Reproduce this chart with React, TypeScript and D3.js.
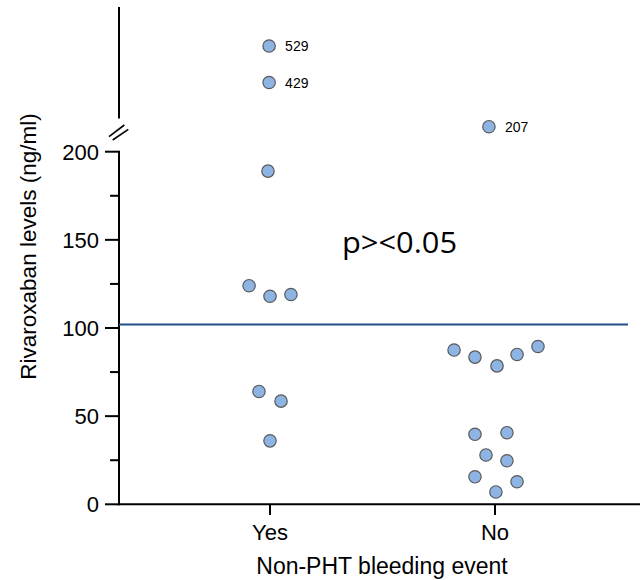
import React from "react";
import * as d3 from "d3";

const categories = ["Yes", "No"];
// values per group (ng/ml)
const yesValues = [529, 429, 189, 124, 118, 119, 64, 58.5, 36];
const noValues = [207, 87.5, 83.5, 78.5, 85, 89.5, 39.7, 40.6, 28, 24.7, 15.6, 12.8, 7];
// horizontal scatter offsets, as fraction of the category step
const yesJitter = [-0.004, -0.004, -0.009, -0.093, 0, 0.093, -0.049, 0.049, 0];
const noJitter = [-0.027, -0.182, -0.089, 0.009, 0.098, 0.191, -0.089, 0.053, -0.04, 0.053, -0.089, 0.098, 0.004];
const lowTicks = [0, 50, 100, 150, 200];
const minorTicks = [25, 75, 125, 175];
const upperLabelled = [529, 429, 207];
const referenceLevel = 102;
const annotation = "p><0.05";
const yLabel = "Rivaroxaban levels (ng/ml)";
const xLabel = "Non-PHT bleeding event";

export default function App() {
  const W = 642, H = 580;
  const axisX = 119;
  const axisBottom = 504.3;
  const x = d3.scalePoint<string>().domain(categories).range([270, 495]);
  const step = x.step();
  const yLow = d3.scaleLinear().domain([0, 200]).range([axisBottom, 151.7]);
  const yHigh = d3.scaleLinear().domain([207, 429, 529]).range([126.7, 82.5, 46]);
  const yPos = (v: number) => (v > 200 ? yHigh(v) : yLow(v));

  const points = [
    ...yesValues.map((v, i) => ({ cat: "Yes", v, j: yesJitter[i] })),
    ...noValues.map((v, i) => ({ cat: "No", v, j: noJitter[i] })),
  ];
  const font = "'Liberation Sans', Arial, sans-serif";

  return (
    <svg width={W} height={H} style={{ position: "absolute", left: 0, top: 0, background: "#fff" }}>
      {/* upper axis segment */}
      <line x1={axisX} x2={axisX} y1={7} y2={118.5} stroke="#000" strokeWidth={2} />
      {/* break marks */}
      <line x1={109} y1={136.7} x2={124.3} y2={125} stroke="#000" strokeWidth={1.6} />
      <line x1={112.7} y1={140} x2={128.3} y2={129.3} stroke="#000" strokeWidth={1.6} />
      {/* lower axis */}
      <line x1={axisX} x2={axisX} y1={yLow(200) - 1} y2={axisBottom + 1} stroke="#000" strokeWidth={2} />
      {lowTicks.map((t) => (
        <g key={t}>
          <line x1={axisX - 14} x2={axisX} y1={yLow(t)} y2={yLow(t)} stroke="#000" strokeWidth={2} />
          <text x={99} y={yLow(t)} dy="0.36em" textAnchor="end" fontFamily={font} fontSize={22}>
            {t}
          </text>
        </g>
      ))}
      {minorTicks.map((t) => (
        <line key={t} x1={axisX - 9} x2={axisX} y1={yLow(t)} y2={yLow(t)} stroke="#000" strokeWidth={2} />
      ))}
      {/* x axis */}
      <line x1={axisX - 1} x2={640} y1={axisBottom} y2={axisBottom} stroke="#000" strokeWidth={2} />
      {categories.map((c) => (
        <g key={c}>
          <line x1={x(c)} x2={x(c)} y1={axisBottom} y2={515} stroke="#000" strokeWidth={2} />
          <text x={x(c)} y={540} textAnchor="middle" fontFamily={font} fontSize={22}>
            {c}
          </text>
        </g>
      ))}
      <text x={382} y={574} textAnchor="middle" fontFamily={font} fontSize={23}>
        {xLabel}
      </text>
      <text
        transform={`translate(36,246.5) rotate(-90)`}
        textAnchor="middle"
        fontFamily={font}
        fontSize={22.5}
      >
        {yLabel}
      </text>
      {/* reference line */}
      <line
        x1={axisX}
        x2={628}
        y1={yLow(referenceLevel)}
        y2={yLow(referenceLevel)}
        stroke="#1f4e87"
        strokeWidth={2}
      />
      {/* points */}
      {points.map((p, i) => {
        const cx = (x(p.cat) as number) + p.j * step;
        const cy = yPos(p.v);
        return (
          <g key={i}>
            <circle cx={cx} cy={cy} r={6.2} fill="#8db4e2" stroke="#5a5a5a" strokeWidth={1.2} />
            {upperLabelled.includes(p.v) && (
              <text x={cx + 16} y={cy} dy="0.36em" fontFamily={font} fontSize={14}>
                {p.v}
              </text>
            )}
          </g>
        );
      })}
      <text
        x={342}
        y={253}
        fontFamily="'Open Sans', sans-serif"
        fontSize={28.5}
        textLength={115}
        lengthAdjust="spacingAndGlyphs"
      >
        {annotation}
      </text>
    </svg>
  );
}
